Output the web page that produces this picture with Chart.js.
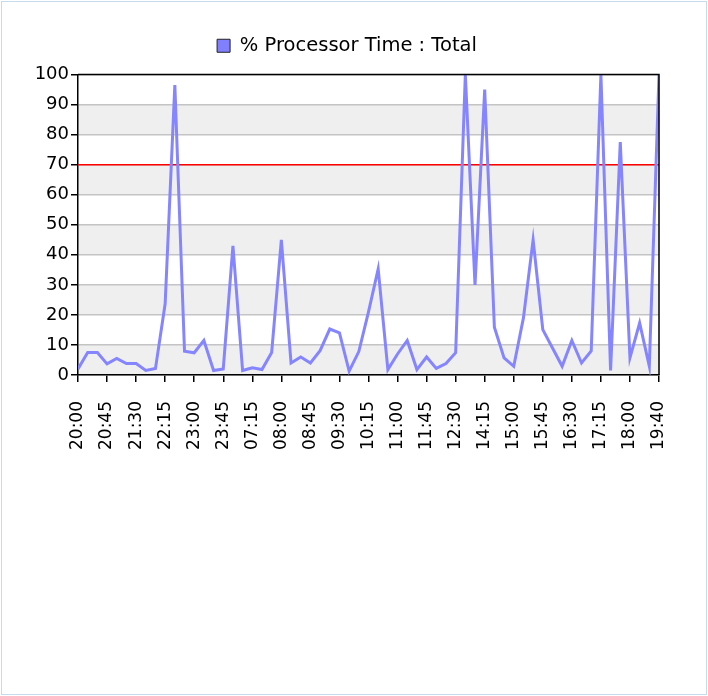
<!DOCTYPE html>
<html><head><meta charset="utf-8">
<script src="https://cdn.jsdelivr.net/npm/chart.js"></script>
<style>
html,body{margin:0;padding:0;background:#fff;}
#frame{position:absolute;left:1px;top:1px;width:704px;height:692px;border:1px solid #c6dbee;}
#c{position:absolute;left:0;top:0;}
</style></head><body>
<div id="frame"></div>
<canvas id="c" width="708" height="696"></canvas>
<script>
const seriesName = '% Processor Time : Total';
const tickLabels = ['20:00','20:45','21:30','22:15','23:00','23:45','07:15','08:00','08:45','09:30','10:15','11:00','11:45','12:30','14:15','15:00','15:45','16:30','17:15','18:00','19:40'];
const samplesPerLabel = 3;
const cpuValues = [
  2, 7.5, 7.5, 3.7, 5.5, 3.8, 3.8, 1.5, 2.2, 23.7,
  96.5, 7.9, 7.4, 11.5, 1.5, 2, 43, 1.5, 2.4, 1.8,
  7.5, 45, 4, 6, 4, 8.1, 15.3, 14, 1.3, 7.8,
  21, 35.3, 1.8, 7, 11.5, 1.8, 6, 2.2, 3.8, 7.4,
  100, 30, 95, 15.9, 5.7, 2.9, 19, 45, 15.1, 9,
  2.9, 11.5, 4, 8, 100, 1.5, 77.5, 5.7, 17.3, 2.9,
  100
];
const thresholdValue = 70;
const yMin = 0, yMax = 100, yStep = 10;

const FONT = "'DejaVu Sans', sans-serif";

const decorPlugin = {
  id: 'decor',
  beforeDraw(chart) {
    const {ctx, chartArea: a, scales: {y}} = chart;
    ctx.save();
    ctx.fillStyle = '#efefef';
    for (let v = yMin; v < yMax; v += 2 * yStep) {
      const top = y.getPixelForValue(v + yStep), bot = y.getPixelForValue(v);
      ctx.fillRect(a.left, top, a.right - a.left, bot - top);
    }
    ctx.restore();
  },
  beforeDatasetsDraw(chart) {
    const {ctx, chartArea: a, scales: {y}} = chart;
    const py = y.getPixelForValue(thresholdValue);
    ctx.save();
    ctx.strokeStyle = '#ff0000';
    ctx.lineWidth = 1.5;
    ctx.beginPath();
    ctx.moveTo(a.left, py);
    ctx.lineTo(a.right, py);
    ctx.stroke();
    ctx.restore();
  },
  afterDatasetsDraw(chart) {
    const {ctx, chartArea: a} = chart;
    ctx.save();
    ctx.strokeStyle = '#000';
    ctx.lineWidth = 1.5;
    ctx.beginPath();
    ctx.moveTo(a.left, a.top);
    ctx.lineTo(a.right, a.top);
    ctx.lineTo(a.right, a.bottom);
    ctx.stroke();
    ctx.restore();
  }
};

new Chart(document.getElementById('c'), {
  type: 'line',
  data: {
    datasets: [{
      label: seriesName,
      data: cpuValues.map((v, i) => ({x: i, y: v})),
      borderColor: '#8585ff',
      backgroundColor: '#8080ff',
      borderWidth: 3,
      pointRadius: 0,
      tension: 0,
      fill: false
    }]
  },
  options: {
    responsive: false,
    animation: false,
    layout: {padding: {top: 26, right: 49, left: 35, bottom: 0}},
    plugins: {
      tooltip: {enabled: false},
      subtitle: {
        display: true,
        text: ' ',
        font: {size: 1, lineHeight: 1},
        padding: {top: 4, bottom: 4},
        weight: 500
      },
      legend: {
        position: 'top',
        weight: 3000,
        labels: {
          font: {family: FONT, size: 19.5},
          color: '#000',
          boxWidth: 13,
          boxHeight: 13,
          padding: 10,
          generateLabels(chart) {
            const items = Chart.defaults.plugins.legend.labels.generateLabels(chart);
            items.forEach(it => { it.fillStyle = '#8080ff'; it.strokeStyle = '#222'; it.lineWidth = 1; });
            return items;
          }
        }
      }
    },
    scales: {
      x: {
        type: 'linear',
        min: 0,
        max: (tickLabels.length - 1) * samplesPerLabel,
        afterFit(s) { s.height = 321; },
        ticks: {
          stepSize: samplesPerLabel,
          autoSkip: false,
          maxRotation: 90,
          minRotation: 90,
          padding: 19,
          color: '#000',
          font: {family: FONT, size: 17},
          callback: v => tickLabels[Math.round(v / samplesPerLabel)]
        },
        grid: {drawOnChartArea: false, tickLength: 7, tickColor: '#000', lineWidth: 1.5},
        border: {color: '#000', width: 1.5}
      },
      y: {
        min: yMin,
        max: yMax,
        afterFit(s) { s.width = 43; },
        ticks: {
          stepSize: yStep,
          padding: 2,
          color: '#000',
          font: {family: FONT, size: 18}
        },
        grid: {color: '#c4c4c4', lineWidth: 1.5, tickLength: 7, tickColor: '#000'},
        border: {color: '#000', width: 1.5}
      }
    }
  },
  plugins: [decorPlugin]
});
</script>
</body></html>
